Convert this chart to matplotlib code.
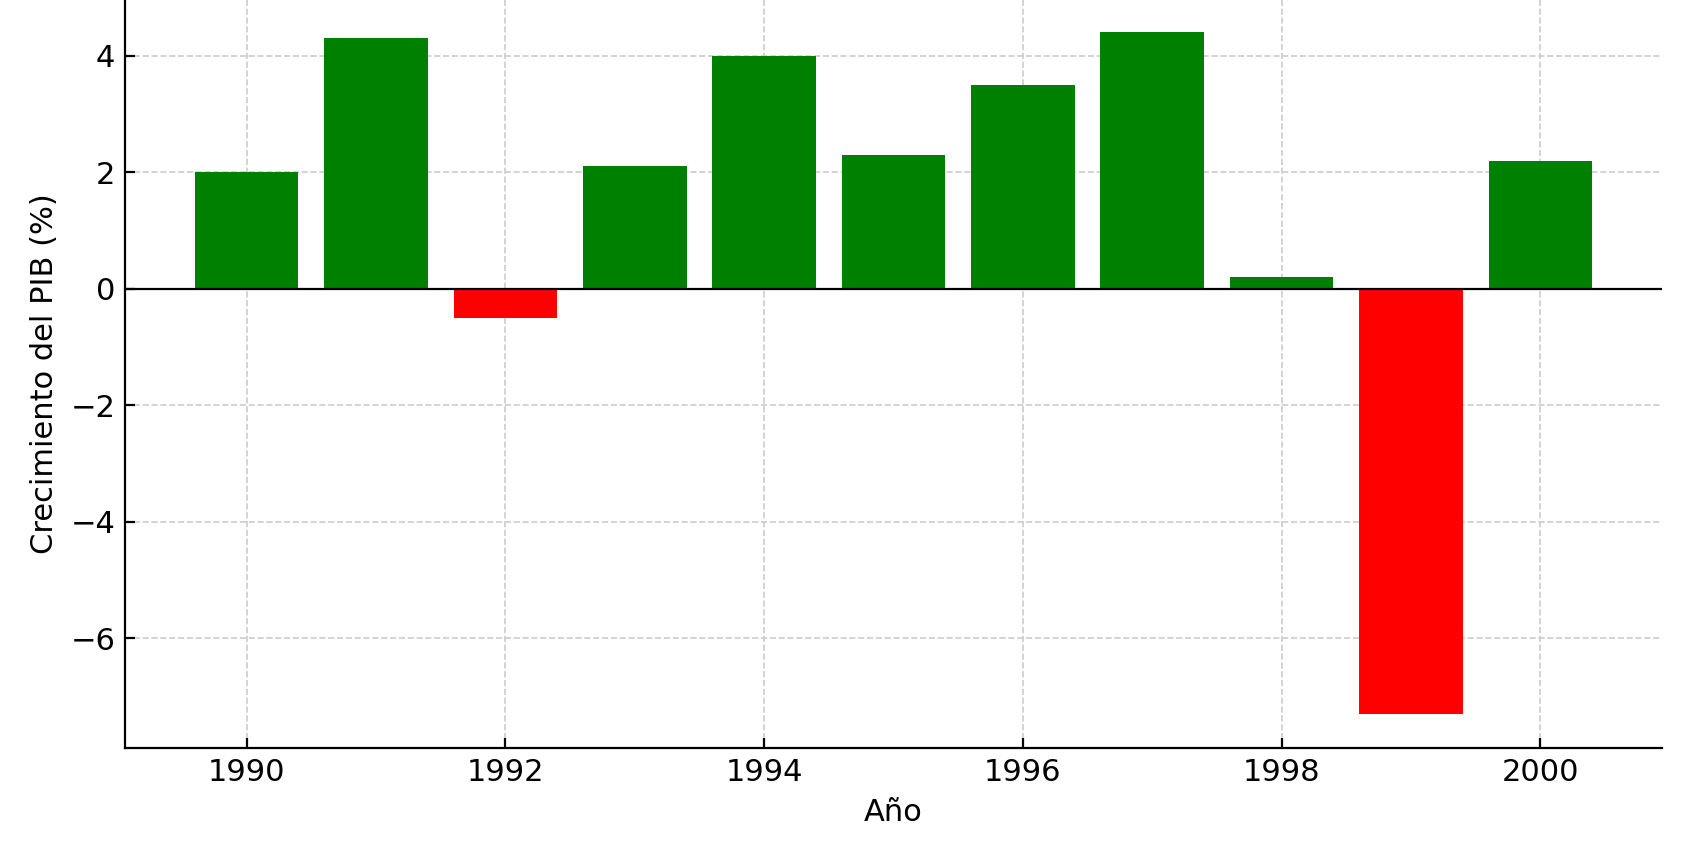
import matplotlib
matplotlib.use("Agg")
import matplotlib.pyplot as plt

# ===== DATA =====
years = [1990, 1991, 1992, 1993, 1994, 1995, 1996, 1997, 1998, 1999, 2000]
gdp_growth = [2.0, 4.3, -0.5, 2.1, 4.0, 2.3, 3.5, 4.4, 0.2, -7.3, 2.2]

colors = ["green" if v >= 0 else "red" for v in gdp_growth]

plt.rcParams["font.size"] = 11

fig = plt.figure(figsize=(8.45, 4.29), dpi=200)
ax = fig.add_axes([0.074, 0.128, 0.9094, 0.874])

ax.bar(years, gdp_growth, color=colors, width=0.8)
ax.axhline(0, color="black", linewidth=0.8)

ax.set_xlabel("Año", fontsize=11)
ax.set_ylabel("Crecimiento del PIB (%)", fontsize=11)
ax.grid(True, linestyle="--", color="#cccccc", linewidth=0.6)
ax.set_axisbelow(True)
ax.tick_params(direction="in", labelsize=11)

ax.spines["top"].set_visible(False)
ax.spines["right"].set_visible(False)

fig.savefig("out.png", dpi=200)
